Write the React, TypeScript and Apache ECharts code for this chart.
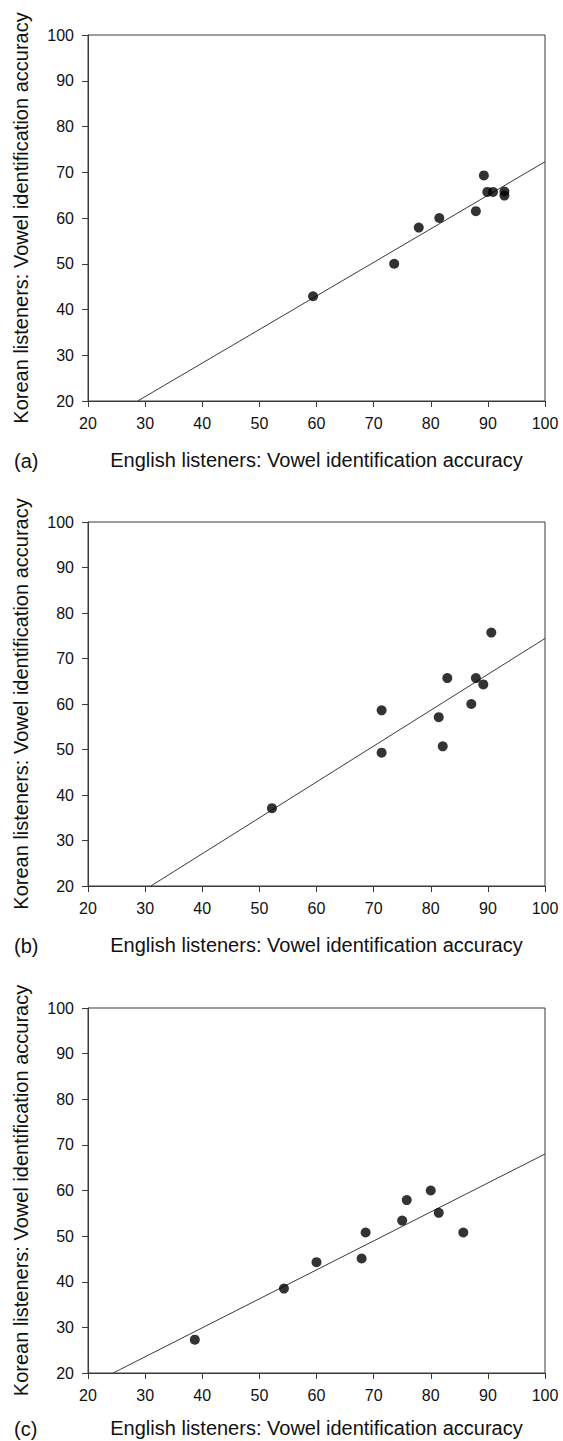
import React, { useEffect, useRef } from "react";
import * as echarts from "echarts";

const panelLabels = ["(a)", "(b)", "(c)"];
const xTitle = "English listeners: Vowel identification accuracy";
const yTitle = "Korean listeners: Vowel identification accuracy";

// Panel (a)
const englishA = [59.4, 73.6, 77.9, 81.5, 87.9, 89.3, 89.9, 90.9, 92.9, 92.9];
const koreanA = [42.9, 50.0, 57.9, 60.0, 61.5, 69.3, 65.7, 65.7, 65.8, 64.9];
const fitA = [[28.7, 20], [100, 72.3]];

// Panel (b)
const englishB = [52.2, 71.4, 71.4, 81.4, 82.1, 82.9, 87.1, 87.9, 89.2, 90.6];
const koreanB = [37.1, 49.3, 58.6, 57.1, 50.7, 65.7, 60.0, 65.7, 64.3, 75.7];
const fitB = [[31.0, 20], [100, 74.4]];

// Panel (c)
const englishC = [38.7, 54.3, 60.0, 67.9, 68.6, 75.0, 75.8, 80.0, 81.4, 85.7];
const koreanC = [27.3, 38.5, 44.3, 45.1, 50.8, 53.4, 57.9, 60.0, 55.1, 50.8];
const fitC = [[24.4, 20], [100, 68.0]];

const axisMin = 20;
const axisMax = 100;
const axisStep = 10;

const FONT = "'Liberation Sans', Arial, Helvetica, sans-serif";
const INK = "#111";
const LINE = "#3a3a3a";

const panels = [
  { x: englishA, y: koreanA, fit: fitA, top: 35, height: 366, gap: 49 },
  { x: englishB, y: koreanB, fit: fitB, top: 522, height: 364, gap: 49 },
  { x: englishC, y: koreanC, fit: fitC, top: 1008, height: 365, gap: 45 },
];

export default function App() {
  const ref = useRef<HTMLDivElement>(null);
  useEffect(() => {
    if (!ref.current) return;
    const chart = echarts.init(ref.current, null, { renderer: "svg" });
    const grids: any[] = [];
    const xAxes: any[] = [];
    const yAxes: any[] = [];
    const series: any[] = [];
    const graphics: any[] = [];
    panels.forEach((p, i) => {
      grids.push({
        left: 88,
        top: p.top,
        width: 457,
        height: p.height,
        show: true,
        borderColor: LINE,
        borderWidth: 1,
        backgroundColor: "transparent",
      });
      const axisCommon = {
        type: "value",
        min: axisMin,
        max: axisMax,
        interval: axisStep,
        gridIndex: i,
        splitLine: { show: false },
        axisLine: { show: true, lineStyle: { color: LINE, width: 1 } },
        axisTick: { show: true, inside: false, length: 6, lineStyle: { color: LINE, width: 1 } },
        nameLocation: "middle",
        nameTextStyle: { fontFamily: FONT, fontSize: 20, color: INK },
      };
      xAxes.push({
        ...axisCommon,
        name: xTitle,
        nameGap: p.gap,
        axisLabel: { fontFamily: FONT, fontSize: 16, color: INK, margin: 14 },
      });
      yAxes.push({
        ...axisCommon,
        name: yTitle,
        nameGap: 57,
        axisLabel: { fontFamily: FONT, fontSize: 16, color: INK, margin: 14 },
      });
      series.push({
        type: "scatter",
        xAxisIndex: i,
        yAxisIndex: i,
        symbol: "circle",
        symbolSize: 10,
        itemStyle: { color: "#000" },
        data: p.x.map((v, k) => [v, p.y[k]]),
        z: 3,
      });
      series.push({
        type: "line",
        xAxisIndex: i,
        yAxisIndex: i,
        symbol: "none",
        lineStyle: { color: LINE, width: 1 },
        data: p.fit,
        z: 2,
      });
      graphics.push({
        type: "text",
        left: 14,
        top: p.top + p.height + p.gap + 1,
        style: { text: panelLabels[i], font: `20px ${FONT}`, fill: INK },
      });
    });
    chart.setOption({
      animation: false,
      backgroundColor: "#fff",
      grid: grids,
      xAxis: xAxes,
      yAxis: yAxes,
      series,
      graphic: graphics,
    });
    return () => chart.dispose();
  }, []);
  return (
    <div
      ref={ref}
      style={{ position: "absolute", left: 0, top: 0, width: 563, height: 1441 }}
    />
  );
}
